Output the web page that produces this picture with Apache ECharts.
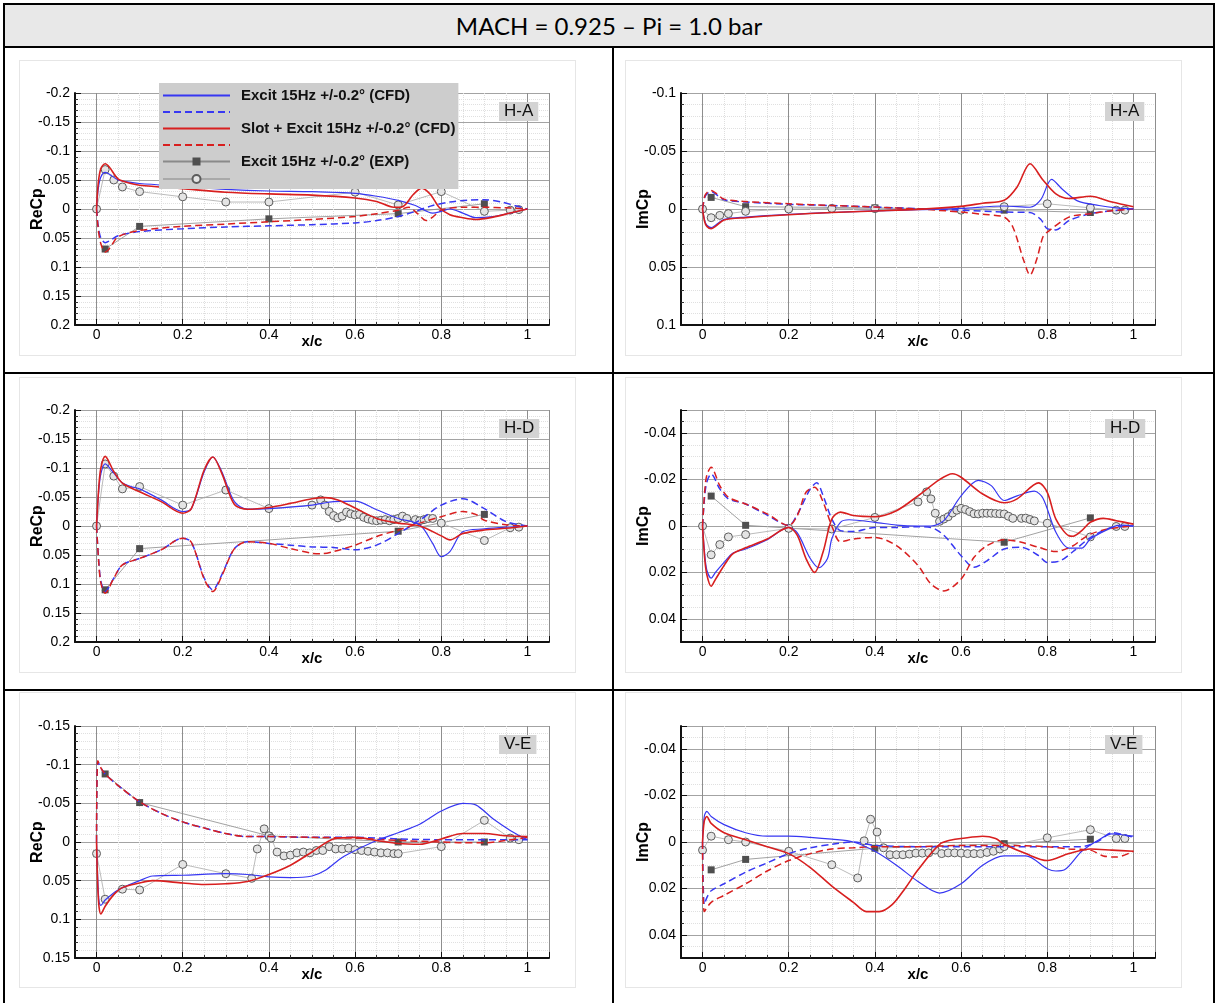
<!DOCTYPE html>
<html>
<head>
<meta charset="utf-8">
<script src="https://cdn.jsdelivr.net/npm/echarts@6/dist/echarts.min.js"></script>
<style>
  html, body { margin: 0; padding: 0; background: #fff; }
  #page { position: relative; width: 1218px; height: 1003px; overflow: hidden; }
  #header { position: absolute; left: 5px; top: 5px; width: 1208px; height: 41px; background: #e8e8e8;
    font-family: Lato, "Open Sans", sans-serif; font-size: 24px; line-height: 41px; text-align: center; color: #000; }
  .rule { position: absolute; background: #000; }
  .frame { position: absolute; border: 1px solid #e6e6e6; box-sizing: border-box; }
  #chart { position: absolute; left: 0; top: 0; width: 1218px; height: 1003px; }
</style>
</head>
<body>
<div id="page">
  <div id="header">MACH = 0.925 – Pi = 1.0 bar</div>
  <div class="frame" style="left:19px;top:60px;width:557px;height:296px"></div>
  <div class="frame" style="left:625px;top:60px;width:557px;height:296px"></div>
  <div class="frame" style="left:19px;top:377px;width:557px;height:296px"></div>
  <div class="frame" style="left:625px;top:377px;width:557px;height:296px"></div>
  <div class="frame" style="left:19px;top:692px;width:557px;height:296px"></div>
  <div class="frame" style="left:625px;top:692px;width:557px;height:296px"></div>
  <div class="rule" style="left:3px;top:3px;width:1212px;height:2px"></div>
  <div class="rule" style="left:3px;top:3px;width:2px;height:1000px"></div>
  <div class="rule" style="left:1213px;top:3px;width:2px;height:1000px"></div>
  <div class="rule" style="left:3px;top:46px;width:1212px;height:2px"></div>
  <div class="rule" style="left:3px;top:372px;width:1212px;height:2px"></div>
  <div class="rule" style="left:3px;top:689px;width:1212px;height:2px"></div>
  <div class="rule" style="left:612px;top:47px;width:2px;height:956px"></div>
  <div id="chart"></div>
</div>
<script>
// curves: [x/c, value]
const haReBlue = [[0,0],[0.004,-0.035],[0.01,-0.055],[0.02,-0.063],[0.03,-0.06],[0.05,-0.05],[0.08,-0.046],[0.1,-0.044],[0.2,-0.039],[0.3,-0.034],[0.4,-0.031],[0.5,-0.03],[0.6,-0.027],[0.65,-0.022],[0.7,-0.015],[0.74,-0.006],[0.78,0.007],[0.8,0.004],[0.82,0.0],[0.85,0.007],[0.88,0.015],[0.92,0.013],[0.96,0.007],[1,0]];
const haReRed = [[0,0],[0.004,-0.045],[0.01,-0.07],[0.02,-0.078],[0.03,-0.072],[0.05,-0.052],[0.08,-0.044],[0.1,-0.041],[0.2,-0.035],[0.3,-0.029],[0.4,-0.026],[0.5,-0.024],[0.6,-0.019],[0.65,-0.013],[0.69,-0.003],[0.71,-0.004],[0.735,-0.025],[0.755,-0.036],[0.775,-0.025],[0.795,-0.003],[0.82,0.01],[0.85,0.015],[0.88,0.018],[0.92,0.014],[0.96,0.007],[1,0]];
const haReBlueDash = [[0,0],[0.004,0.03],[0.01,0.05],[0.02,0.058],[0.03,0.055],[0.05,0.046],[0.1,0.039],[0.2,0.034],[0.3,0.031],[0.4,0.029],[0.5,0.027],[0.6,0.024],[0.65,0.02],[0.7,0.013],[0.74,0.004],[0.78,-0.006],[0.82,-0.012],[0.86,-0.015],[0.9,-0.016],[0.94,-0.012],[0.97,-0.006],[1,0]];
const haReRedDash = [[0,0],[0.004,0.035],[0.01,0.06],[0.02,0.074],[0.03,0.068],[0.05,0.048],[0.1,0.037],[0.2,0.03],[0.3,0.026],[0.4,0.022],[0.5,0.018],[0.6,0.013],[0.65,0.008],[0.7,0.002],[0.725,-0.003],[0.745,0.008],[0.765,0.02],[0.78,0.014],[0.8,0.002],[0.85,-0.003],[0.9,-0.003],[0.95,-0.002],[1,0]];
const haReExpSq = [[0.02,0.069],[0.1,0.03],[0.4,0.017],[0.7,0.008],[0.9,-0.009]];
const haReExpCi = [[0,0],[0.02,-0.068],[0.04,-0.05],[0.06,-0.038],[0.1,-0.03],[0.2,-0.021],[0.3,-0.012],[0.4,-0.012],[0.6,-0.029],[0.7,-0.007],[0.8,-0.03],[0.9,0.004],[0.96,0.002],[0.98,0.001]];

const haImBlue = [[0,0],[0.005,0.01],[0.01,0.014],[0.02,0.016],[0.03,0.014],[0.05,0.009],[0.1,0.007],[0.2,0.0046],[0.3,0.003],[0.4,0.0017],[0.5,0.0006],[0.6,-0.0005],[0.7,-0.0026],[0.76,-0.0015],[0.785,-0.008],[0.81,-0.0255],[0.835,-0.017],[0.87,-0.007],[0.92,-0.003],[0.96,-0.001],[1,0]];
const haImRed = [[0,0],[0.005,0.011],[0.01,0.015],[0.02,0.017],[0.03,0.015],[0.05,0.0095],[0.1,0.0075],[0.2,0.005],[0.3,0.003],[0.4,0.0017],[0.5,0.0003],[0.6,-0.0023],[0.65,-0.005],[0.7,-0.0075],[0.73,-0.019],[0.76,-0.039],[0.79,-0.025],[0.82,-0.013],[0.85,-0.009],[0.9,-0.011],[0.95,-0.006],[1,-0.002]];
const haImBlueDash = [[0,0],[0.005,-0.01],[0.01,-0.013],[0.02,-0.015],[0.03,-0.013],[0.05,-0.008],[0.1,-0.006],[0.2,-0.004],[0.3,-0.003],[0.4,-0.0017],[0.5,-0.0003],[0.6,0.001],[0.7,0.0026],[0.76,0.003],[0.785,0.009],[0.8,0.017],[0.82,0.018],[0.85,0.01],[0.9,0.004],[0.95,0.0015],[1,0]];
const haImRedDash = [[0,0],[0.005,-0.011],[0.01,-0.014],[0.02,-0.016],[0.03,-0.014],[0.05,-0.0085],[0.1,-0.0065],[0.2,-0.0045],[0.3,-0.003],[0.4,-0.0017],[0.5,0],[0.6,0.0026],[0.65,0.0046],[0.7,0.007],[0.72,0.0155],[0.745,0.044],[0.76,0.057],[0.775,0.044],[0.79,0.024],[0.8,0.02],[0.85,0.007],[0.9,0.004],[0.95,0.0015],[1,0]];
const haImExpSq = [[0.02,-0.01],[0.1,-0.002],[0.4,-0.001],[0.7,0.001],[0.9,0.003]];
const haImExpCi = [[0,0],[0.02,0.0075],[0.04,0.0055],[0.06,0.004],[0.1,0.002],[0.2,0],[0.3,-0.0005],[0.4,-0.0003],[0.6,0.001],[0.7,-0.002],[0.8,-0.0045],[0.9,-0.001],[0.96,0.001],[0.98,0.001]];

const hdReBlue = [[0,0],[0.005,-0.06],[0.01,-0.09],[0.02,-0.107],[0.04,-0.091],[0.06,-0.074],[0.08,-0.068],[0.1,-0.064],[0.15,-0.045],[0.2,-0.025],[0.22,-0.03],[0.25,-0.094],[0.27,-0.119],[0.29,-0.095],[0.32,-0.042],[0.35,-0.029],[0.4,-0.03],[0.5,-0.036],[0.55,-0.042],[0.6,-0.043],[0.65,-0.028],[0.7,-0.013],[0.75,-0.002],[0.78,0.03],[0.8,0.053],[0.82,0.044],[0.85,0.01],[0.9,0.005],[0.95,0.002],[1,0]];
const hdReRed = [[0,0],[0.005,-0.065],[0.01,-0.1],[0.02,-0.12],[0.04,-0.094],[0.06,-0.074],[0.1,-0.059],[0.15,-0.042],[0.2,-0.022],[0.22,-0.03],[0.25,-0.097],[0.27,-0.119],[0.29,-0.092],[0.32,-0.037],[0.35,-0.029],[0.4,-0.032],[0.45,-0.039],[0.5,-0.047],[0.53,-0.049],[0.56,-0.045],[0.6,-0.031],[0.65,-0.013],[0.7,-0.005],[0.75,0],[0.8,0.017],[0.82,0.024],[0.85,0.013],[0.9,0.007],[0.95,0.004],[1,0]];
const hdReBlueDash = [[0,0],[0.005,0.06],[0.01,0.095],[0.02,0.113],[0.04,0.09],[0.06,0.067],[0.1,0.056],[0.15,0.041],[0.2,0.021],[0.22,0.028],[0.25,0.09],[0.27,0.11],[0.29,0.085],[0.32,0.039],[0.35,0.027],[0.4,0.03],[0.45,0.033],[0.5,0.036],[0.55,0.037],[0.6,0.041],[0.65,0.033],[0.7,0.013],[0.75,-0.01],[0.8,-0.036],[0.85,-0.047],[0.9,-0.03],[0.95,-0.0075],[1,0]];
const hdReRedDash = [[0,0],[0.005,0.062],[0.01,0.098],[0.02,0.116],[0.04,0.09],[0.06,0.067],[0.1,0.056],[0.15,0.041],[0.2,0.021],[0.22,0.028],[0.25,0.092],[0.27,0.113],[0.29,0.087],[0.32,0.039],[0.35,0.027],[0.4,0.03],[0.45,0.039],[0.5,0.047],[0.52,0.048],[0.55,0.044],[0.6,0.033],[0.65,0.018],[0.7,0.007],[0.75,-0.005],[0.8,-0.016],[0.85,-0.025],[0.88,-0.02],[0.9,-0.01],[0.95,-0.002],[1,0]];
const hdReExpSq = [[0.02,0.11],[0.1,0.039],[0.7,0.009],[0.9,-0.02]];
const hdReExpCi = [[0,0],[0.02,-0.107],[0.04,-0.086],[0.06,-0.064],[0.1,-0.068],[0.2,-0.036],[0.3,-0.062],[0.4,-0.03],[0.5,-0.036],[0.52,-0.045],[0.53,-0.036],[0.54,-0.025],[0.55,-0.018],[0.56,-0.014],[0.57,-0.017],[0.58,-0.024],[0.59,-0.021],[0.6,-0.019],[0.61,-0.02],[0.62,-0.015],[0.63,-0.012],[0.64,-0.01],[0.65,-0.009],[0.66,-0.01],[0.67,-0.011],[0.68,-0.009],[0.69,-0.011],[0.7,-0.013],[0.71,-0.017],[0.72,-0.013],[0.74,-0.011],[0.75,-0.009],[0.76,-0.011],[0.77,-0.013],[0.78,-0.013],[0.8,-0.005],[0.9,0.025],[0.96,0.003],[0.98,0.002]];

const hdImBlue = [[0,0],[0.005,0.012],[0.01,0.019],[0.02,0.0225],[0.03,0.02],[0.05,0.0157],[0.07,0.0117],[0.1,0.0099],[0.15,0.0059],[0.2,0.0006],[0.22,0.003],[0.25,0.014],[0.27,0.018],[0.29,0.014],[0.3,0.0055],[0.32,-0.0016],[0.34,-0.0027],[0.4,-0.0016],[0.45,-0.0004],[0.5,0],[0.53,0],[0.56,-0.0023],[0.6,-0.013],[0.64,-0.0197],[0.67,-0.0174],[0.7,-0.011],[0.73,-0.013],[0.77,-0.015],[0.79,-0.012],[0.82,0.0027],[0.85,0.0095],[0.88,0.0095],[0.9,0.0056],[0.95,0.0006],[0.97,-0.0004],[1,0]];
const hdImRed = [[0,0],[0.005,0.014],[0.01,0.021],[0.02,0.026],[0.03,0.023],[0.05,0.017],[0.07,0.012],[0.1,0.0094],[0.15,0.0056],[0.2,0.0006],[0.22,0.004],[0.24,0.014],[0.26,0.02],[0.28,0.011],[0.3,-0.003],[0.32,-0.006],[0.35,-0.0045],[0.4,-0.004],[0.45,-0.0066],[0.5,-0.013],[0.55,-0.02],[0.58,-0.0225],[0.6,-0.021],[0.65,-0.0138],[0.7,-0.01],[0.73,-0.0117],[0.78,-0.0186],[0.8,-0.0145],[0.82,-0.003],[0.85,0.0042],[0.86,0.0044],[0.88,0.002],[0.9,-0.0016],[0.93,-0.0033],[0.96,-0.0023],[1,-0.0008]];
const hdImBlueDash = [[0,0],[0.005,-0.013],[0.01,-0.019],[0.02,-0.0224],[0.04,-0.016],[0.06,-0.0117],[0.1,-0.0095],[0.15,-0.0047],[0.2,-0.0002],[0.22,-0.005],[0.25,-0.016],[0.265,-0.0186],[0.28,-0.013],[0.3,-0.003],[0.32,0.002],[0.35,0.0024],[0.4,0.0006],[0.45,0.0006],[0.5,0.0003],[0.53,0.0006],[0.56,0.004],[0.6,0.0128],[0.63,0.0178],[0.66,0.015],[0.7,0.0099],[0.74,0.0092],[0.78,0.0128],[0.8,0.0157],[0.83,0.015],[0.86,0.011],[0.9,0.005],[0.95,0.0006],[1,0]];
const hdImRedDash = [[0,0],[0.005,-0.015],[0.01,-0.022],[0.02,-0.0253],[0.04,-0.0174],[0.06,-0.0124],[0.1,-0.0095],[0.15,-0.0052],[0.2,-0.0002],[0.22,-0.0045],[0.24,-0.0145],[0.26,-0.0167],[0.28,-0.0102],[0.3,0],[0.32,0.0068],[0.35,0.0056],[0.4,0.0049],[0.45,0.0085],[0.5,0.017],[0.53,0.025],[0.56,0.028],[0.6,0.0229],[0.63,0.0135],[0.66,0.0085],[0.7,0.0059],[0.74,0.007],[0.78,0.0092],[0.82,0.011],[0.86,0.0085],[0.88,0.0058],[0.9,0.0035],[0.94,0.0013],[1,0]];
const hdImExpSq = [[0.02,-0.0129],[0.1,-0.0003],[0.7,0.007],[0.9,-0.0035]];
const hdImExpCi = [[0,0],[0.02,0.0124],[0.04,0.008],[0.06,0.0047],[0.1,0.0037],[0.2,0.001],[0.3,0.0013],[0.4,-0.0037],[0.5,-0.0104],[0.52,-0.0147],[0.53,-0.0117],[0.54,-0.0055],[0.55,-0.002],[0.56,-0.003],[0.57,-0.004],[0.58,-0.0056],[0.59,-0.0068],[0.6,-0.0076],[0.61,-0.0071],[0.62,-0.0062],[0.63,-0.0053],[0.64,-0.0052],[0.65,-0.0055],[0.66,-0.0055],[0.67,-0.0055],[0.68,-0.0054],[0.69,-0.0053],[0.7,-0.0052],[0.71,-0.0042],[0.72,-0.0033],[0.74,-0.0033],[0.75,-0.0034],[0.76,-0.0028],[0.77,-0.0022],[0.8,-0.0012],[0.9,0.0047],[0.96,0.0002],[0.98,0.0002]];

const veReBlue = [[0,0],[0.003,0.05],[0.006,0.078],[0.01,0.082],[0.02,0.075],[0.05,0.062],[0.1,0.05],[0.13,0.044],[0.2,0.043],[0.3,0.041],[0.35,0.042],[0.4,0.045],[0.45,0.046],[0.5,0.044],[0.53,0.037],[0.57,0.02],[0.6,0.011],[0.65,-0.002],[0.7,-0.012],[0.75,-0.023],[0.8,-0.04],[0.85,-0.05],[0.88,-0.048],[0.92,-0.03],[0.96,-0.015],[1,-0.003]];
const veReRed = [[0,0],[0.003,0.06],[0.006,0.085],[0.01,0.093],[0.02,0.083],[0.04,0.068],[0.06,0.059],[0.1,0.053],[0.13,0.05],[0.2,0.053],[0.25,0.055],[0.3,0.054],[0.35,0.051],[0.4,0.042],[0.45,0.03],[0.5,0.013],[0.55,-0.004],[0.6,-0.006],[0.65,-0.002],[0.7,0.002],[0.75,0.003],[0.8,-0.004],[0.85,-0.011],[0.9,-0.011],[0.95,-0.008],[1,-0.007]];
const veReBlueDash = [[0,0],[0.003,-0.104],[0.01,-0.096],[0.02,-0.088],[0.05,-0.073],[0.1,-0.052],[0.15,-0.037],[0.2,-0.026],[0.25,-0.018],[0.3,-0.011],[0.35,-0.007],[0.4,-0.007],[0.5,-0.006],[0.6,-0.006],[0.7,-0.004],[0.8,-0.003],[0.9,-0.003],[1,-0.003]];
const veReRedDash = [[0,0],[0.003,-0.105],[0.01,-0.096],[0.02,-0.088],[0.05,-0.073],[0.1,-0.052],[0.15,-0.037],[0.2,-0.026],[0.25,-0.018],[0.3,-0.011],[0.35,-0.007],[0.4,-0.007],[0.5,-0.006],[0.6,-0.005],[0.7,-0.002],[0.8,0],[0.85,0.001],[0.9,0.001],[0.95,-0.002],[1,-0.006]];
const veReExpSq = [[0.02,-0.088],[0.1,-0.051],[0.4,-0.008],[0.7,0],[0.9,0]];
const veReExpCi = [[0,0.015],[0.02,0.074],[0.06,0.061],[0.1,0.062],[0.2,0.029],[0.3,0.041],[0.36,0.047],[0.373,0.009],[0.389,-0.017],[0.4,-0.008],[0.405,-0.005],[0.419,0.013],[0.435,0.018],[0.45,0.017],[0.465,0.014],[0.48,0.013],[0.495,0.014],[0.51,0.011],[0.525,0.011],[0.54,0.006],[0.555,0.009],[0.57,0.009],[0.585,0.008],[0.6,0.01],[0.615,0.011],[0.63,0.012],[0.645,0.013],[0.66,0.014],[0.675,0.014],[0.69,0.015],[0.7,0.015],[0.8,0.006],[0.9,-0.028],[0.96,-0.005],[0.98,-0.003]];

const veImBlue = [[0,0],[0.004,-0.011],[0.01,-0.0132],[0.02,-0.011],[0.05,-0.0075],[0.1,-0.004],[0.15,-0.0025],[0.2,-0.0025],[0.25,-0.002],[0.3,-0.0012],[0.35,0],[0.4,0.004],[0.45,0.01],[0.5,0.017],[0.55,0.022],[0.6,0.018],[0.65,0.01],[0.7,0.006],[0.75,0.006],[0.8,0.0115],[0.82,0.0125],[0.84,0.012],[0.88,0.004],[0.92,-0.001],[0.95,-0.0035],[0.98,-0.003],[1,-0.0025]];
const veImRed = [[0,0],[0.004,-0.009],[0.01,-0.011],[0.02,-0.008],[0.05,-0.004],[0.1,-0.001],[0.15,0.002],[0.2,0.005],[0.25,0.011],[0.3,0.019],[0.35,0.026],[0.38,0.03],[0.41,0.03],[0.44,0.027],[0.47,0.02],[0.5,0.012],[0.55,0.001],[0.58,-0.001],[0.6,-0.0015],[0.65,-0.0025],[0.68,-0.0015],[0.7,0.001],[0.75,0.005],[0.8,0.008],[0.85,0.005],[0.9,0.003],[0.95,0.0035],[1,0.004]];
const veImBlueDash = [[0,0],[0.004,0.027],[0.01,0.024],[0.02,0.021],[0.05,0.018],[0.1,0.013],[0.15,0.009],[0.2,0.005],[0.25,0.0025],[0.3,0.001],[0.35,0],[0.4,0.0015],[0.5,0.002],[0.6,0.002],[0.7,0.002],[0.8,0.002],[0.88,0.002],[0.92,-0.0005],[0.95,-0.004],[1,-0.002]];
const veImRedDash = [[0,0],[0.004,0.03],[0.02,0.026],[0.05,0.023],[0.1,0.018],[0.15,0.0125],[0.2,0.008],[0.25,0.005],[0.3,0.003],[0.35,0.0025],[0.4,0.002],[0.5,0.002],[0.6,0.0015],[0.7,0.0015],[0.8,0.002],[0.85,0.003],[0.9,0.0035],[0.93,0.006],[0.96,0.0065],[1,0.004]];
const veImExpSq = [[0.02,0.012],[0.1,0.0075],[0.4,0.0027],[0.7,0.0007],[0.9,-0.0012]];
const veImExpCi = [[0,0.0035],[0.02,-0.0025],[0.06,-0.001],[0.1,0],[0.2,0.004],[0.3,0.0098],[0.36,0.0155],[0.375,-0.0005],[0.39,-0.0098],[0.405,-0.0043],[0.42,0.0025],[0.435,0.0055],[0.45,0.0055],[0.465,0.0055],[0.48,0.0052],[0.495,0.0048],[0.51,0.0048],[0.525,0.0047],[0.54,0.0035],[0.555,0.005],[0.57,0.0047],[0.585,0.0047],[0.6,0.0048],[0.615,0.005],[0.63,0.005],[0.645,0.005],[0.66,0.0045],[0.675,0.004],[0.69,0.003],[0.7,0.002],[0.8,-0.0018],[0.9,-0.0053],[0.96,-0.0015],[0.98,-0.0015]];

const seriesNames = [
  "Excit 15Hz +/-0.2° (CFD)",
  "Excit 15Hz +/-0.2° (CFD) lower",
  "Slot + Excit 15Hz +/-0.2° (CFD)",
  "Slot + Excit 15Hz +/-0.2° (CFD) lower",
  "Excit 15Hz +/-0.2° (EXP)",
  "Excit 15Hz +/-0.2° (EXP) lower"
];
const panelTags = ["H-A", "H-A", "H-D", "H-D", "V-E", "V-E"];

const FONT = "Liberation Sans, Arial, sans-serif";
const BLUE = "#3737f2";
const RED = "#d81f1f";

const panels = [
  { left: 75,  top: 93,  yName: "ReCp", min: -0.2,  max: 0.2,  step: 0.05, minor: 5,
    curves: [haReBlue, haReBlueDash, haReRed, haReRedDash, haReExpSq, haReExpCi] },
  { left: 681, top: 93,  yName: "ImCp", min: -0.1,  max: 0.1,  step: 0.05, minor: 5,
    curves: [haImBlue, haImBlueDash, haImRed, haImRedDash, haImExpSq, haImExpCi] },
  { left: 75,  top: 410, yName: "ReCp", min: -0.2,  max: 0.2,  step: 0.05, minor: 5,
    curves: [hdReBlue, hdReBlueDash, hdReRed, hdReRedDash, hdReExpSq, hdReExpCi] },
  { left: 681, top: 410, yName: "ImCp", min: -0.05, max: 0.05, step: 0.02, minor: 4,
    curves: [hdImBlue, hdImBlueDash, hdImRed, hdImRedDash, hdImExpSq, hdImExpCi] },
  { left: 75,  top: 726, yName: "ReCp", min: -0.15, max: 0.15, step: 0.05, minor: 5,
    curves: [veReBlue, veReBlueDash, veReRed, veReRedDash, veReExpSq, veReExpCi] },
  { left: 681, top: 726, yName: "ImCp", min: -0.05, max: 0.05, step: 0.02, minor: 4,
    curves: [veImBlue, veImBlueDash, veImRed, veImRedDash, veImExpSq, veImExpCi] }
];

function onStep(v, step) {
  const k = v / step;
  return Math.abs(k - Math.round(k)) < 1e-6;
}
function tickText(v, step) {
  return onStep(v, step) ? String(+v.toFixed(4)) : "";
}

const grids = [], xAxes = [], yAxes = [], titles = [], series = [];

panels.forEach((p, i) => {
  grids.push({ left: p.left, top: p.top, width: 474, height: 232 });

  xAxes.push({
    gridIndex: i, type: "value", min: -0.05, max: 1.05, splitNumber: 5,
    name: "x/c", nameLocation: "middle", nameGap: 9, nameMoveOverlap: false,
    nameTextStyle: { fontFamily: FONT, fontWeight: "bold", fontSize: 15, color: "#000" },
    axisLine: { onZero: false, lineStyle: { color: "#111", width: 2 } },
    axisTick: { inside: true, length: 6, lineStyle: { color: "#111" } },
    minorTick: { show: true, splitNumber: 4, length: 3, lineStyle: { color: "#333" } },
    axisLabel: { fontFamily: FONT, fontSize: 14, color: "#000", margin: 3,
      formatter: v => tickText(v, 0.2) },
    splitLine: { show: true, lineStyle: { color: "#8e8e8e", width: 1 } },
    minorSplitLine: { show: true, lineStyle: { color: "#dedede", width: 1, type: "dotted" } }
  });

  const evenMin = onStep(p.min, p.step);
  yAxes.push(Object.assign({
    gridIndex: i, type: "value", inverse: true, min: p.min, max: p.max,
    name: p.yName, nameLocation: "middle", nameGap: 29, nameMoveOverlap: false,
    nameTextStyle: { fontFamily: FONT, fontWeight: "bold", fontSize: 16, color: "#000" },
    axisLine: { onZero: false, lineStyle: { color: "#111", width: 2 } },
    axisTick: { inside: true, length: 6, lineStyle: { color: "#111" } },
    minorTick: { show: true, splitNumber: p.minor, length: 3, lineStyle: { color: "#333" } },
    axisLabel: { fontFamily: FONT, fontSize: 14, color: "#000", margin: 5,
      formatter: v => tickText(v, p.step) },
    splitLine: { show: true, lineStyle: { color: "#a3a3a3", width: 1 } },
    minorSplitLine: { show: true, lineStyle: { color: "#e0e0e0", width: 1, type: "dotted" } }
  }, evenMin ? { interval: p.step } : { splitNumber: Math.round((p.max - p.min) / p.step) }));

  titles.push({
    text: panelTags[i], left: p.left + 424, top: p.top + 9,
    backgroundColor: "#d3d3d3", padding: [1, 5, 1, 5],
    textStyle: { fontFamily: FONT, fontSize: 17, fontWeight: "normal", color: "#111" }
  });

  const c = p.curves;
  // experiment first so the CFD curves sit on top of its thin joining lines
  series.push({
    name: seriesNames[4], type: "line", xAxisIndex: i, yAxisIndex: i, data: c[4],
    symbol: "rect", symbolSize: 7, showAllSymbol: true, z: 2,
    lineStyle: { color: "#8a8a8a", width: 0.8 },
    itemStyle: { color: "#4f4f4f", borderWidth: 0 }
  });
  series.push({
    name: seriesNames[5], type: "line", xAxisIndex: i, yAxisIndex: i, data: c[5],
    symbol: "circle", symbolSize: 8, showAllSymbol: true, z: 2,
    lineStyle: { color: "#a9a9a9", width: 0.8 },
    itemStyle: { color: "#e4e4e4", borderColor: "#5c5c5c", borderWidth: 1 }
  });
  const cfd = (name, data, color, dashed, width) => ({
    name, type: "line", xAxisIndex: i, yAxisIndex: i, data,
    symbol: "none", smooth: 0.3, z: 3,
    lineStyle: { color, width, type: dashed ? [7, 4] : "solid" },
    itemStyle: { color }
  });
  series.push(cfd(seriesNames[1], c[1], BLUE, true, 1.5));
  series.push(cfd(seriesNames[3], c[3], RED, true, 1.5));
  series.push(cfd(seriesNames[0], c[0], BLUE, false, 1.2));
  series.push(cfd(seriesNames[2], c[2], RED, false, 1.6));
});

const hideMark = { color: "rgba(0,0,0,0)", borderWidth: 0 };
const legendText = {};
legendText[seriesNames[0]] = seriesNames[0];
legendText[seriesNames[2]] = seriesNames[2];
legendText[seriesNames[4]] = seriesNames[4];

const chart = echarts.init(document.getElementById("chart"));
chart.setOption({
  animation: false,
  grid: grids,
  xAxis: xAxes,
  yAxis: yAxes,
  title: titles,
  legend: {
    left: 159, top: 83, orient: "vertical",
    backgroundColor: "#cdcdcd", padding: [5, 3, 5, 3],
    itemWidth: 67, itemHeight: 10, itemGap: 5, selectedMode: false,
    textStyle: { fontFamily: FONT, fontWeight: "bold", fontSize: 15, color: "#111",
      lineHeight: 10, padding: [0, 0, 0, 6] },
    formatter: n => legendText[n] || "",
    data: [
      { name: seriesNames[0], itemStyle: hideMark },
      { name: seriesNames[1], itemStyle: hideMark },
      { name: seriesNames[2], itemStyle: hideMark },
      { name: seriesNames[3], itemStyle: hideMark },
      { name: seriesNames[4] },
      { name: seriesNames[5] }
    ]
  },
  series: series
});
</script>
</body>
</html>
